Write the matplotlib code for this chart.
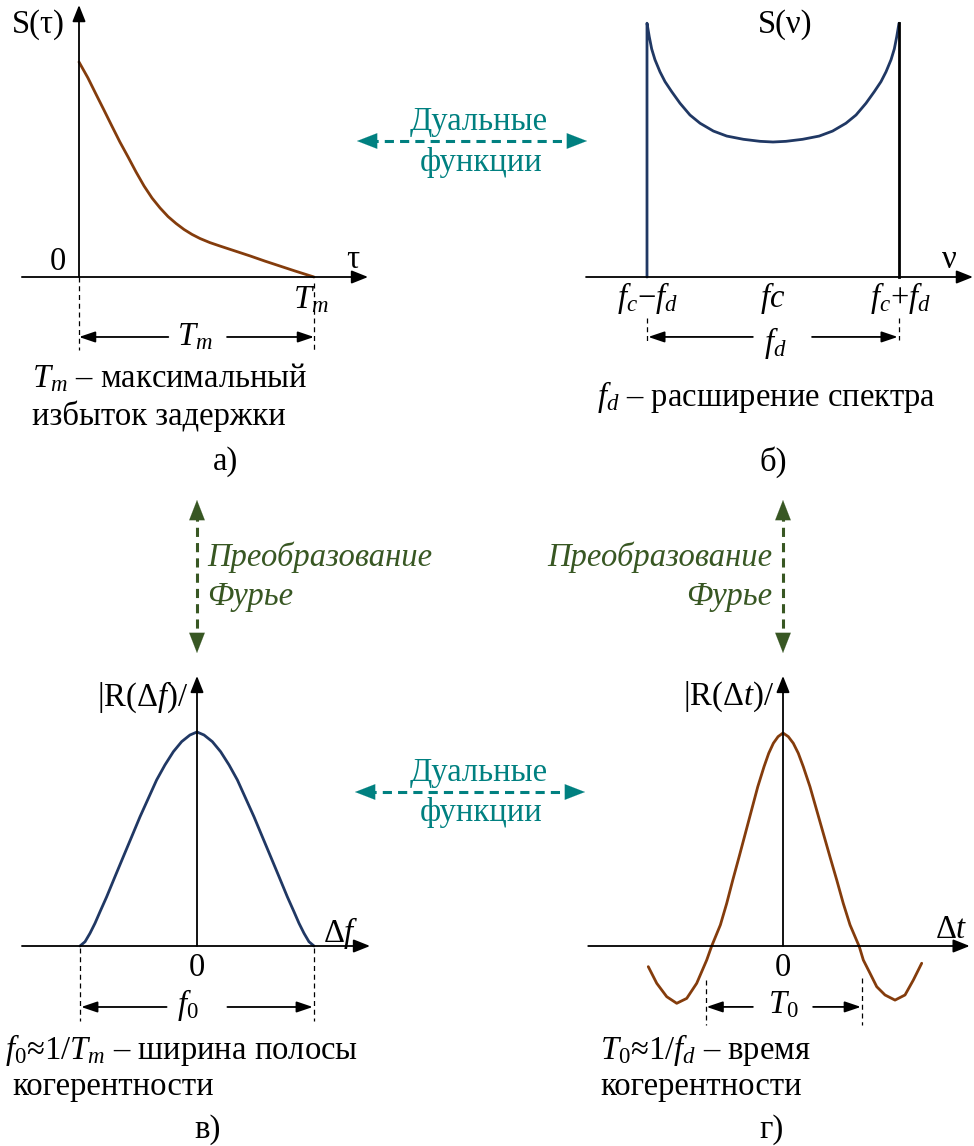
import matplotlib.pyplot as plt

plt.rcParams['font.family'] = ['Liberation Serif', 'DejaVu Serif']
plt.rcParams['mathtext.fontset'] = 'custom'
plt.rcParams['mathtext.rm'] = 'Liberation Serif'
plt.rcParams['mathtext.it'] = 'Liberation Serif:italic'

# Figure size in pixels
W, H = 974, 1146
FS = 23.5

NAVY = '#203864'
BROWN = '#843c0c'
TEAL = '#008080'
GREEN = '#385723'

# a) power delay profile S(tau), tau in units of Tm
tau_a = [0.0, 0.038, 0.072, 0.106, 0.140, 0.174, 0.209, 0.243, 0.277, 0.311,
         0.345, 0.379, 0.413, 0.447, 0.481, 0.515, 0.557, 0.600, 0.664, 0.728,
         0.791, 0.855, 0.919, 1.0]
s_a = [1.0, 0.926, 0.851, 0.777, 0.702, 0.628, 0.558, 0.488, 0.423, 0.367,
       0.321, 0.281, 0.249, 0.221, 0.198, 0.179, 0.160, 0.144, 0.121, 0.098,
       0.074, 0.051, 0.028, 0.0]

# b) Doppler spectrum S(nu), nu = (nu - fc) / fd
nu_b = [-1.0, -0.982, -0.963, -0.937, -0.897, -0.857, -0.804, -0.738, -0.659,
        -0.579, -0.473, -0.367, -0.235, -0.103, 0.0,
        0.103, 0.235, 0.367, 0.473, 0.579, 0.659, 0.738, 0.804, 0.857, 0.897,
        0.937, 0.963, 0.982, 1.0]
s_b = [1.88, 1.78, 1.69, 1.61, 1.52, 1.447, 1.373, 1.287, 1.2,
       1.139, 1.081, 1.044, 1.02, 1.005, 1.0,
       1.005, 1.02, 1.044, 1.081, 1.139, 1.2, 1.287, 1.373, 1.447, 1.52,
       1.61, 1.69, 1.78, 1.88]

# c) |R(df)|, df in units of f0/2
df_c = [-1.0, -0.957, -0.915, -0.872, -0.829, -0.772, -0.701, -0.63, -0.558,
        -0.487, -0.416, -0.345, -0.274, -0.202, -0.131, -0.06, 0.0,
        0.06, 0.131, 0.202, 0.274, 0.345, 0.416, 0.487, 0.558, 0.63, 0.701,
        0.772, 0.829, 0.872, 0.915, 0.957, 1.0]
r_c = [0.0, 0.02, 0.059, 0.106, 0.16, 0.23, 0.324, 0.417, 0.511,
       0.604, 0.69, 0.776, 0.846, 0.908, 0.955, 0.986, 1.0,
       0.986, 0.955, 0.908, 0.846, 0.776, 0.69, 0.604, 0.511, 0.417, 0.324,
       0.23, 0.16, 0.106, 0.059, 0.02, 0.0]

# d) |R(dt)|, dt in units of T0/2
dt_d = [-1.833, -1.718, -1.582, -1.446, -1.31, -1.174, -1.038, -0.97, -0.852,
        -0.766, -0.683, -0.597, -0.512, -0.428, -0.343, -0.258, -0.194, -0.131,
        -0.067, 0.0, 0.072, 0.14, 0.208, 0.276, 0.367, 0.458, 0.548, 0.639,
        0.731, 0.82, 0.912, 1.038, 1.093, 1.184, 1.275, 1.388, 1.524, 1.66,
        1.773, 1.887]
r_d = [-0.097, -0.175, -0.238, -0.269, -0.246, -0.175, -0.066, 0.0, 0.099,
       0.2, 0.31, 0.419, 0.529, 0.638, 0.748, 0.842, 0.905, 0.952,
       0.983, 1.0, 0.983, 0.952, 0.905, 0.842, 0.748, 0.638, 0.529, 0.419,
       0.31, 0.2, 0.099, -0.003, -0.066, -0.128, -0.191, -0.23, -0.254, -0.23,
       -0.16, -0.081]

fig = plt.figure(figsize=(W / 100, H / 100), dpi=100)

# overlay in pixel units for captions and connectors
ov = fig.add_axes([0, 0, 1, 1])
ov.set_xlim(0, W)
ov.set_ylim(H, 0)
ov.axis('off')


def panel(x0, y0, sx, sy, xlim, ylim):
    """Axes whose data origin sits at pixel (x0, y0), sx/sy px per unit."""
    left = (x0 + xlim[0] * sx) / W
    bottom = (H - y0 + ylim[0] * sy) / H
    ax = fig.add_axes([left, bottom, (xlim[1] - xlim[0]) * sx / W,
                       (ylim[1] - ylim[0]) * sy / H])
    ax.set_xlim(xlim)
    ax.set_ylim(ylim)
    ax.axis('off')
    return ax


def arrow(ax, start, end, color='black', lw=1.3, scale=20, hl=0.5, hw=0.2):
    ax.annotate('', xy=end, xytext=start, annotation_clip=False,
                arrowprops=dict(arrowstyle=f'-|>,head_length={hl},head_width={hw}',
                                color=color, lw=lw, shrinkA=0, shrinkB=0,
                                mutation_scale=scale))


def marker(ax, x, y0, y1):
    ax.plot([x, x], [y0, y1], color='black', lw=0.9, ls=(0, (4, 3)),
            clip_on=False)


def span(ax, x0, x1, gap0, gap1, y):
    arrow(ax, (gap0, y), (x0, y), scale=15, hl=0.65, hw=0.22)
    arrow(ax, (gap1, y), (x1, y), scale=15, hl=0.65, hw=0.22)


def curve(ax, x, y, color):
    ax.plot(x, y, color=color, lw=2.0, solid_joinstyle='round',
            solid_capstyle='round', clip_on=False)


def dashed_link(x0, y0, x1, y1, color):
    # dashed shaft with solid heads at both ends
    dx, dy = x1 - x0, y1 - y0
    n = (dx ** 2 + dy ** 2) ** 0.5
    ux, uy = dx / n, dy / n
    h = 12
    ov.plot([x0 + ux * h, x1 - ux * h], [y0 + uy * h, y1 - uy * h],
            color=color, lw=2.2, ls=(0, (3, 2)))
    arrow(ov, (x0 + ux * 14, y0 + uy * 14), (x0, y0), color=color, lw=0.1,
          scale=16, hl=0.9, hw=0.35)
    arrow(ov, (x1 - ux * 14, y1 - uy * 14), (x1, y1), color=color, lw=0.1,
          scale=16, hl=0.9, hw=0.35)


def label(x, y, s, ha='center', **kw):
    ov.text(x, y, s, ha=ha, va='center', fontsize=kw.pop('fontsize', FS), **kw)


# ---- a) S(tau)
ax_a = panel(79, 277, 235, 215, (-0.3, 1.3), (-0.4, 1.3))
arrow(ax_a, (-0.243, 0), (1.23, 0))
arrow(ax_a, (0, 0), (0, 1.265))
curve(ax_a, tau_a, s_a, BROWN)
marker(ax_a, 0, 0, -0.34)
marker(ax_a, 1.0, -0.03, -0.34)
span(ax_a, 0.0, 1.0, 0.38, 0.63, -0.279)

label(38, 25, 'S(τ)')
label(58, 262, '0')
label(353, 260, 'τ')
label(311, 300, '$T_m$')
label(195, 337, '$T_m$')
label(32, 378, '$T_m$ – максимальный', ha='left')
label(32, 416, 'избыток задержки', ha='left')
label(225, 462, 'а)')

# ---- b) S(nu)
ax_b = panel(773, 277, 126, 135, (-1.6, 1.7), (-0.6, 2.0))
arrow(ax_b, (-1.484, 0), (1.587, 0))
curve(ax_b, [-1.0] + nu_b, [0.0] + s_b, NAVY)
ax_b.plot([1.0, 1.0], [0.0, s_b[-1]], color='black', lw=2.0)
marker(ax_b, -1.0, -0.3, -0.48)
marker(ax_b, 1.0, -0.3, -0.47)
span(ax_b, -0.99, 0.99, -0.16, 0.31, -0.444)

label(785, 25, 'S(ν)')
label(949, 260, 'ν')
label(647, 298, '$f_c$−$f_d$')
label(773, 298, '$fc$')
label(900, 298, '$f_c$+$f_d$')
label(775, 343, '$f_d$')
label(766, 397, '$f_d$ – расширение спектра')
label(773, 462, 'б)')

# ---- c) |R(df)|
ax_c = panel(197, 946, 117, 214, (-1.6, 1.6), (-0.5, 1.3))
arrow(ax_c, (-1.496, 0), (1.479, 0))
arrow(ax_c, (0, 0), (0, 1.262))
curve(ax_c, df_c, r_c, NAVY)
marker(ax_c, -1.0, -0.01, -0.35)
marker(ax_c, 1.0, -0.01, -0.35)
span(ax_c, -0.99, 0.99, -0.26, 0.26, -0.285)

label(143, 697, '|R(Δ$f$)/')
label(341, 933, 'Δ$f$')
label(197, 968, '0')
label(188, 1005, r'$f_\mathit{0}$')
label(5, 1050, r'$f_\mathit{0}$≈1/$T_m$ – ширина полосы', ha='left')
label(12, 1087, 'когерентности', ha='left')
label(208, 1130, 'в)')

# ---- d) |R(dt)|
ax_d = panel(783, 946, 73.5, 213, (-2.7, 2.6), (-0.5, 1.3))
arrow(ax_d, (-2.65, 0), (2.54, 0))
arrow(ax_d, (0, 0), (0, 1.268))
curve(ax_d, dt_d, r_d, BROWN)
marker(ax_d, -1.05, -0.16, -0.37)
marker(ax_d, 1.07, -0.15, -0.37)
span(ax_d, -1.04, 1.06, -0.41, 0.41, -0.286)

label(729, 697, '|R(Δ$t$)/')
label(951, 930, 'Δ$t$')
label(783, 968, '0')
label(783, 1005, r'$T_\mathit{0}$')
label(600, 1050, r'$T_\mathit{0}$≈1/$f_d$ – время', ha='left')
label(600, 1087, 'когерентности', ha='left')
label(771, 1130, 'г)')

# ---- connectors between panels
dashed_link(357, 141, 587, 141, TEAL)
label(479, 122, 'Дуальные', color=TEAL)
label(481, 162, 'функции', color=TEAL)

dashed_link(355, 792, 585, 792, TEAL)
label(479, 773, 'Дуальные', color=TEAL)
label(481, 812, 'функции', color=TEAL)

dashed_link(197, 500, 197, 653, GREEN)
label(207, 557, 'Преобразование', ha='left', color=GREEN, style='italic')
label(207, 597, 'Фурье', ha='left', color=GREEN, style='italic')

dashed_link(783, 500, 783, 653, GREEN)
label(772, 557, 'Преобразование', ha='right', color=GREEN, style='italic')
label(772, 597, 'Фурье', ha='right', color=GREEN, style='italic')

fig.savefig('out.png', dpi=100)
